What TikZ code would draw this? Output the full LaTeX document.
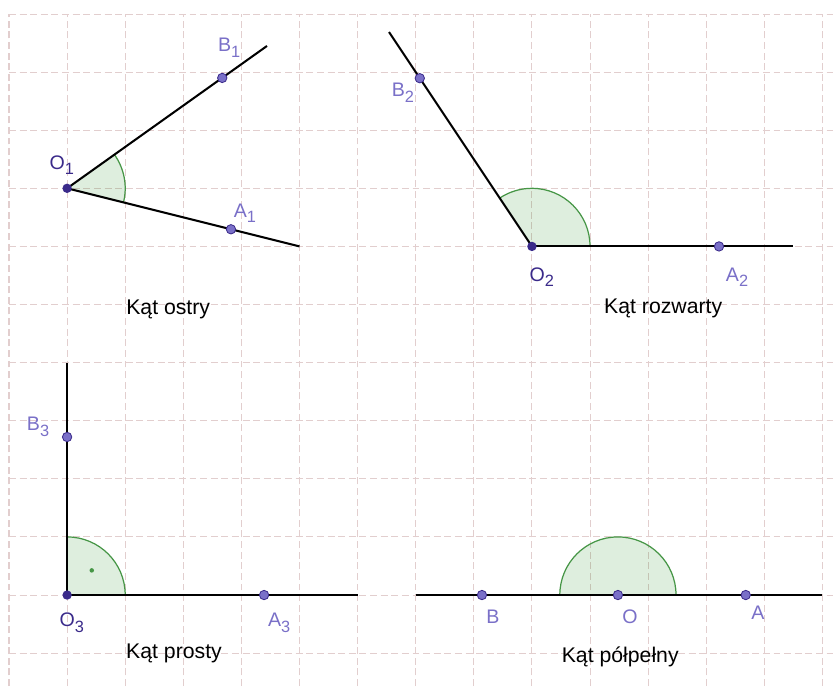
\documentclass[tikz,border=0pt]{standalone}
\usepackage{fontspec}
\setmainfont{Liberation Sans}
\usepackage{tikz}
\usetikzlibrary{angles,calc}
\definecolor{gridpink}{RGB}{226,206,206}
\definecolor{ptdark}{RGB}{58,42,138}
\definecolor{ptlight}{RGB}{122,112,200}
\definecolor{arcgreen}{RGB}{70,150,70}
\newcommand{\idx}[1]{\raisebox{-2.8pt}{\fontsize{8}{8}\selectfont #1}}

\begin{document}
\begin{tikzpicture}[
    gridln/.style={gridpink, line width=0.5pt, dash pattern=on 3.4pt off 1.8pt},
    ray/.style={black, line width=1pt},
    ang/.style={draw=arcgreen, line width=0.6pt, fill=green!50!black,
                fill opacity=0.13, angle radius=1cm},
    vtx/.style={circle, fill=ptdark, inner sep=0pt, minimum size=4.6pt},
    pt/.style={circle, fill=ptlight, draw=ptdark, line width=0.4pt,
               inner sep=0pt, minimum size=4.6pt},
    lbo/.style={text=ptdark, font=\fontsize{9.6}{10}\selectfont, inner sep=0pt},
    lbp/.style={text=ptlight, font=\fontsize{9.6}{10}\selectfont, inner sep=0pt},
    captxt/.style={font=\fontsize{10.4}{12}\selectfont, inner sep=0pt}
  ]
    \fill[white] (-0.155,-11.566) rectangle (14.182,0.241);
    \useasboundingbox (-0.155,-11.566) rectangle (14.182,0.241);
    \draw[gridln] (0,-11.566) grid (14.182,0);

    % kat ostry
    \coordinate (O1) at (1,-3);
    \coordinate (A1) at (3.82,-3.705);
    \coordinate (B1) at (3.67,-1.10);
    \coordinate (a1end) at (5,-4);
    \coordinate (b1end) at (4.44,-0.55);
    \pic[ang] {angle=A1--O1--B1};
    \draw[ray] (O1) -- (a1end);
    \draw[ray] (O1) -- (b1end);
    \node[vtx] (pO1) at (O1) {};
    \node[pt]  (pA1) at (A1) {};
    \node[pt]  (pB1) at (B1) {};
    \node[lbo] (lO1) at (0.91,-2.60) {O\idx{1}};
    \node[lbp] (lA1) at (4.06,-3.43) {A\idx{1}};
    \node[lbp] (lB1) at (3.79,-0.585) {B\idx{1}};
    \node[captxt] (c1) at (2.74,-5.09) {Kąt ostry};

    % kat rozwarty
    \coordinate (O2) at (9,-4);
    \coordinate (A2) at (12.22,-4);
    \coordinate (B2) at (7.07,-1.105);
    \coordinate (a2end) at (13.5,-4);
    \coordinate (b2end) at (6.54,-0.31);
    \pic[ang] {angle=A2--O2--B2};
    \draw[ray] (O2) -- (a2end);
    \draw[ray] (O2) -- (b2end);
    \node[vtx] (pO2) at (O2) {};
    \node[pt]  (pA2) at (A2) {};
    \node[pt]  (pB2) at (B2) {};
    \node[lbo] (lO2) at (9.17,-4.53) {O\idx{2}};
    \node[lbp] (lA2) at (12.53,-4.53) {A\idx{2}};
    \node[lbp] (lB2) at (6.78,-1.36) {B\idx{2}};
    \node[captxt] (c2) at (11.26,-5.06) {Kąt rozwarty};

    % kat prosty
    \coordinate (O3) at (1,-10);
    \coordinate (A3) at (4.39,-10);
    \coordinate (B3) at (1,-7.28);
    \coordinate (a3end) at (6,-10);
    \coordinate (b3end) at (1,-6);
    \pic[ang] {angle=A3--O3--B3};
    \node[circle, fill=arcgreen, inner sep=0pt, minimum size=2.2pt] (rdot)
      at ($(O3)+(45:0.6)$) {};
    \draw[ray] (O3) -- (a3end);
    \draw[ray] (O3) -- (b3end);
    \node[vtx] (pO3) at (O3) {};
    \node[pt]  (pA3) at (A3) {};
    \node[pt]  (pB3) at (B3) {};
    \node[lbo] (lO3) at (1.08,-10.48) {O\idx{3}};
    \node[lbp] (lA3) at (4.65,-10.48) {A\idx{3}};
    \node[lbp] (lB3) at (0.50,-7.11) {B\idx{3}};
    \node[captxt] (c3) at (2.84,-11.0) {Kąt prosty};

    % kat polpelny
    \coordinate (O) at (10.48,-10);
    \coordinate (A) at (12.68,-10);
    \coordinate (B) at (8.14,-10);
    \coordinate (lend) at (7,-10);
    \coordinate (rend) at (14,-10);
    \pic[ang] {angle=A--O--B};
    \draw[ray] (lend) -- (rend);
    \node[pt] (pO) at (O) {};
    \node[pt] (pA) at (A) {};
    \node[pt] (pB) at (B) {};
    \node[lbp] (lO) at (10.69,-10.38) {O};
    \node[lbp] (lA) at (12.89,-10.31) {A};
    \node[lbp] (lB) at (8.33,-10.38) {B};
    \node[captxt] (c4) at (10.52,-11.07) {Kąt półpełny};
  \end{tikzpicture}
\end{document}
